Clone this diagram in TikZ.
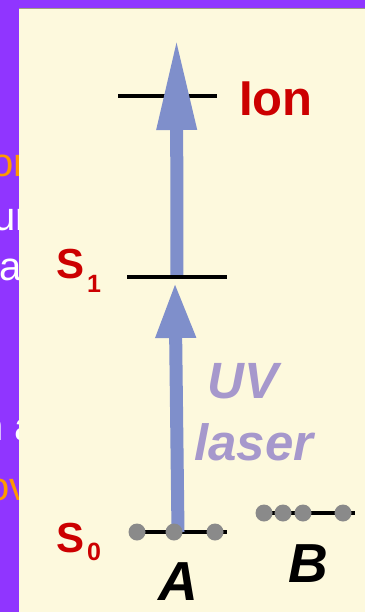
\documentclass[tikz,border=0pt]{standalone}
\usepackage{fontspec}
\setmainfont{Liberation Sans}
\usetikzlibrary{arrows.meta}
\definecolor{purplebg}{RGB}{144,53,255}
\definecolor{cream}{RGB}{253,249,221}
\definecolor{arrowblue}{RGB}{127,143,203}
\definecolor{dotgray}{RGB}{138,138,138}
\definecolor{levred}{RGB}{204,0,0}
\definecolor{lav}{RGB}{166,152,204}
\definecolor{frorange}{RGB}{255,153,0}
\definecolor{panelline}{RGB}{160,155,130}
\tikzset{
  level/.style={draw=none,fill=black,minimum height=4pt,inner sep=0pt,minimum width=#1},
  dotnode/.style={circle,fill=dotgray,minimum size=17pt,inner sep=0pt},
  photon/.style={draw=arrowblue,line width=13pt,-{Triangle[width=37pt,length=#1]}},
  lablred/.style={text=levred,font=\bfseries\fontsize{42}{42}\selectfont,inner sep=0pt,anchor=base west},
  sublbl/.style={text=levred,font=\bfseries\fontsize{25}{25}\selectfont,inner sep=0pt,anchor=base west},
  uvtext/.style={text=lav,font=\bfseries\itshape\fontsize{51}{51}\selectfont,inner sep=0pt,anchor=base west},
  moltext/.style={text=black,font=\bfseries\itshape\fontsize{55}{55}\selectfont,inner sep=0pt,anchor=base},
  frag/.style={font=\fontsize{40}{40}\selectfont,inner sep=0pt,anchor=base west}
}
\begin{document}
\begin{tikzpicture}[x=1pt,y=-1pt]
\useasboundingbox (0,0) rectangle (365,612);
\fill[purplebg] (0,0) rectangle (365,612);
% clipped fragments of background text
\node[frag,text=frorange] (f1) at (-9,177) {or};
\node[frag,text=white] (f2) at (-7,230) {ur};
\node[frag,text=white] (f3) at (-1,280) {a};
\node[frag,text=white] (f4) at (-19,440) {n a};
\node[frag,text=frorange] (f5) at (-13,500) {ov};
% panel
\fill[cream] (19,8) rectangle (365,612);
\draw[panelline,line width=1pt] (19,8.5) -- (365,8.5);
% levels
\node[level=99pt] (ion) at (167.5,96) {};
\coordinate (iontip) at (176.5,38);
\coordinate (s1tip) at (175,282);
\node[level=100pt] (s1) at (177,277) {};
% arrows
\draw[photon=92pt] (s1.center) -- (iontip);
\node[level=100pt] at (s1.center) {};
\node[level=98pt] (s0) at (178,532) {};
\draw[photon=56pt] (s0.center) -- (s1tip);
% A dots
\node[dotnode] (a1) at (137,532) {};
\node[dotnode] (a2) at (174,532) {};
\node[dotnode] (a3) at (215,532) {};
% B level
\node[level=98pt] (b0) at (306,513) {};
\node[dotnode] (b1) at (264,513) {};
\node[dotnode] (b2) at (283,513) {};
\node[dotnode] (b3) at (303,513) {};
\node[dotnode] (b4) at (343,513) {};
% labels
\node[text=levred,font=\bfseries\fontsize{49}{49}\selectfont,inner sep=0pt,anchor=base west] (ionlbl) at (239,116) {Ion};
\node[lablred] (s1lbl) at (56,278) {S};
\node[sublbl] (s1sub) at (87,292) {1};
\node[lablred] (s0lbl) at (56,552) {S};
\node[sublbl] (s0sub) at (87,560) {0};
\node[uvtext] (uv) at (207,398) {UV};
\node[uvtext] (laser) at (194,460) {laser};
\node[moltext] (alab) at (178,600) {A};
\node[moltext] (blab) at (308,582) {B};
\end{tikzpicture}
\end{document}
